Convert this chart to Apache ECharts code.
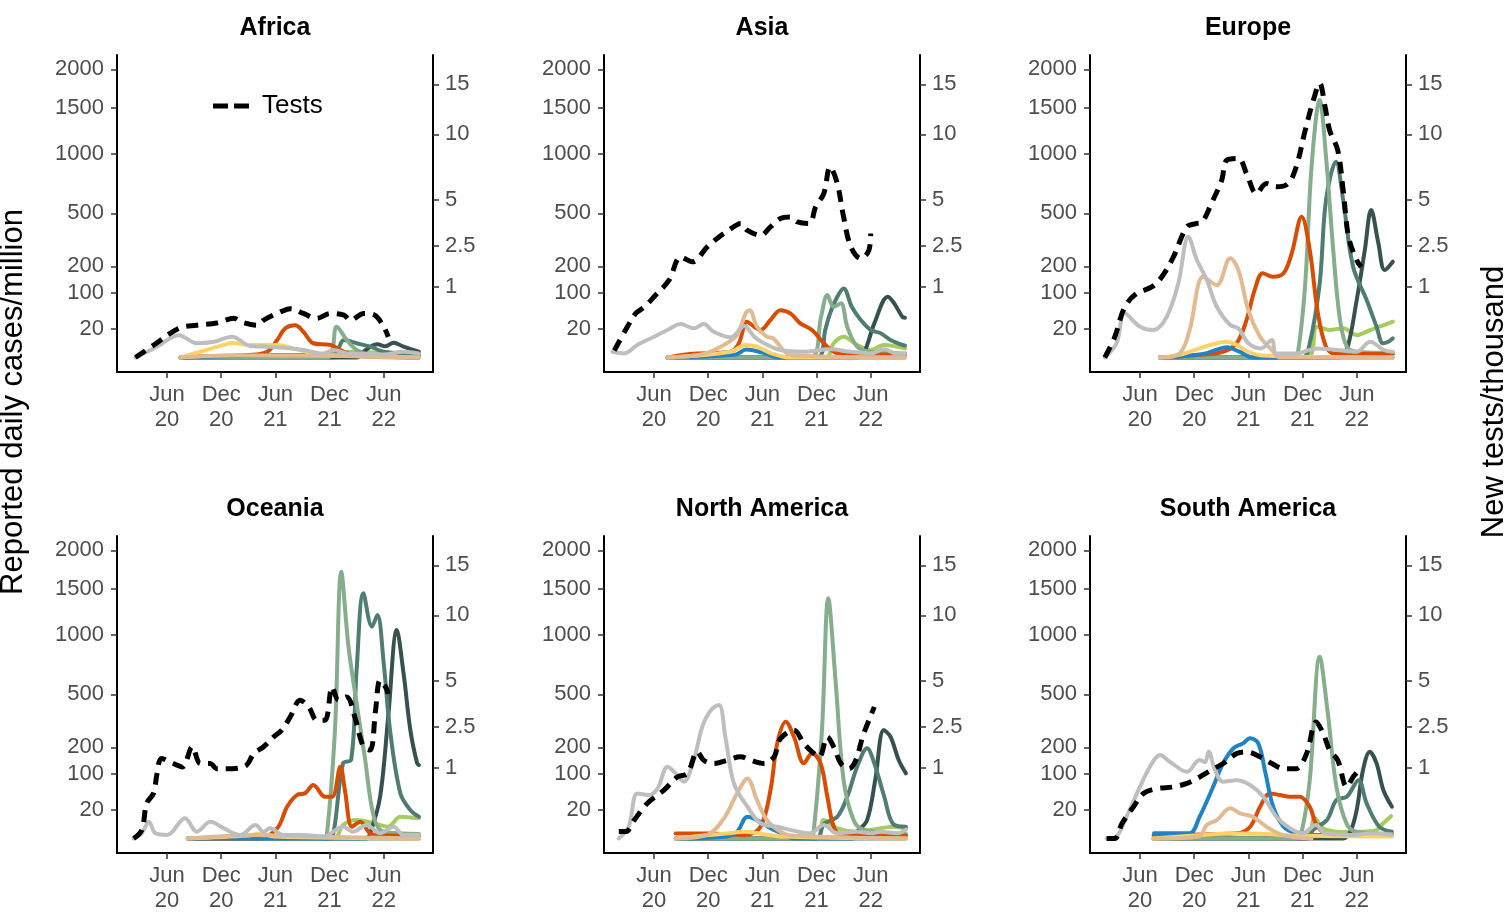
<!DOCTYPE html>
<html>
<head>
<meta charset="utf-8">
<title>Variant cases and tests by region</title>
<script src="https://cdn.jsdelivr.net/npm/echarts@6/dist/echarts.min.js"></script>
<style>
  html, body { margin: 0; background: #fff; }
  #chart { width: 1508px; height: 922px; }
</style>
</head>
<body>
<div id="chart"></div>
<script>
// x values are months since 1 Jan 2020 (5 = Jun 2020)
const regions = ['Africa', 'Asia', 'Europe', 'Oceania', 'North America', 'South America'];
const tickMonths = [5, 11, 17, 23, 29];
const tickLabels = ['Jun\n20', 'Dec\n20', 'Jun\n21', 'Dec\n21', 'Jun\n22'];
const caseTicks = [20, 100, 200, 500, 1000, 1500, 2000];
const testTicks = [1, 2.5, 5, 10, 15];

// drawing order: first is at the bottom
const variantNames = ['Other Omicron', 'BA.4/5', 'BA.2', 'BA.1', 'Delta', 'Gamma', 'Beta', 'Alpha', 'Pre-VOC'];
const variantColors = ['#a5cc5c', '#37514f', '#4f7d72', '#86ad8c', '#d94c04', '#1f83c6', '#ffd166', '#e2ba92', '#bebebe'];

// ---- Africa
const africaTests = [[1.5,0],[3.5,0.03],[6.3,0.17],[8.3,0.21],[10.5,0.24],[12.4,0.31],[13.3,0.25],[15,0.21],[15.7,0.28],[17.2,0.39],[18.7,0.48],[20.1,0.39],[21.6,0.31],[23.1,0.39],[24.6,0.36],[25.3,0.28],[26.8,0.39],[28,0.36],[29,0.19],[29.5,0.085]];
const africaPre = [[1.5,0],[3.9,2.8],[6.3,12],[8.3,4.9],[10.2,6],[12.2,10.4],[14.2,3.2],[16.4,2.8],[17.9,2.3],[20.1,1.35],[22.3,0.4],[23.4,1.35],[25.3,0.3],[27.5,0.3],[29,0.2],[31.2,0.8],[32.9,0.4]];
const africaAlpha = [[6.5,0],[12,0.1],[18,0.1],[32.9,0]];
const africaBeta = [[6.5,0],[8.7,0.8],[11.3,3.8],[12.2,5],[14.2,3.7],[17.2,3.7],[19,2],[21.6,0.3],[24,0.1],[32.9,0]];
const africaGamma = [[6.5,0],[14,0.1],[18,0.15],[32.9,0]];
const africaDelta = [[6.5,0],[10,0.05],[14.2,0.15],[16.1,0.8],[17.2,7.4],[18.1,20.5],[19.2,25],[20.1,16],[21.2,4.9],[23.1,3.8],[24.6,0.8],[26,0.05],[32.9,0]];
const africaBA1 = [[6.5,0],[22.7,0],[23.8,22.8],[24.9,7.4],[26,1.35],[27.5,0.2],[32.9,0]];
const africaBA2 = [[6.5,0],[23.5,0.4],[24.6,7.4],[26,4.9],[27.5,2.8],[29,0.8],[31,0.3],[32.9,0.2]];
const africaBA5 = [[6.5,0],[26,0],[27,1.35],[28.3,4.2],[29.2,3],[30.1,5.3],[31.2,2.8],[32.9,0.8]];
const africaOther = [[6.5,0],[23.5,0],[25,0.8],[29,0.6],[32.9,0.5]];

// ---- Asia
const asiaTests = [[0.6,0.01],[2.05,0.19],[2.97,0.39],[3.9,0.51],[5,0.74],[6.66,1.2],[7.96,2.03],[9.24,1.84],[10.9,2.46],[12.2,2.92],[13.3,3.26],[14.6,3.61],[15.3,3.26],[16.8,3.0],[17.9,3.43],[19,3.88],[20.1,3.97],[20.9,3.69],[22.2,3.61],[22.9,4.56],[23.8,5.4],[24.5,7.3],[25.3,6.08],[26,3.97],[26.8,2.46],[27.9,1.97],[28.8,2.31],[29,3.09]];
const asiaPre = [[0.4,0.8],[1.7,0.4],[3.15,3.8],[5,10.4],[6.5,18.2],[7.96,27],[9.4,20.5],[10.5,27],[11.6,16],[13.5,9.8],[15,23.9],[16.1,10.4],[17.2,4.9],[19,1.35],[21.6,0.8],[24.5,1.6],[26.8,0.8],[29,0.4],[30.5,1.6],[32,0.3],[32.8,0.4]];
const asiaAlpha = [[6.5,0],[10.5,0.3],[12.75,3.8],[14.2,12.2],[15.15,47],[15.6,54],[16.4,22.8],[17.5,10.4],[18.2,8.9],[19.5,0.8],[20.5,0.1],[32.8,0]];
const asiaBeta = [[6.5,0],[13.5,0.8],[15.15,3.8],[16.4,2.8],[18,0.4],[20,0],[32.8,0]];
const asiaGamma = [[6.5,0],[14,0.2],[15.2,1.5],[17,0.6],[19,0],[32.8,0]];
const asiaDelta = [[6.5,0],[9,0.3],[13.5,0.8],[14.4,4.9],[15.3,30.8],[16.1,22.8],[16.8,18.2],[17.9,33.9],[19,54],[20.1,47],[21.2,28],[22.5,18.2],[23.8,4.9],[24.9,0.8],[26,0.2],[32.8,0.2]];
const asiaBA1 = [[6.5,0],[22.3,0],[23.5,40],[24.2,94],[24.9,62],[25.7,70.7],[26.4,22.8],[27.5,2.8],[29,0.8],[32.8,0.4]];
const asiaBA2 = [[6.5,0],[23,0],[24,20],[24.5,47],[25.3,89],[26,115],[26.9,62],[27.9,33.9],[29,18.2],[30.1,14.1],[31.2,7.4],[32.5,3.8],[32.8,3.5]];
const asiaBA5 = [[6.5,0],[27.5,0],[28.3,0.8],[29.4,28],[30.9,89],[31.6,70.7],[32.5,40],[32.8,38]];
const asiaOther = [[6.5,0],[24,0],[24.9,4.9],[26,10.4],[27.5,3.8],[29,1.35],[30.5,3.8],[32.8,2]];

// ---- Europe
const europeTests = [[1.1,0],[2.2,0.085],[3.3,0.51],[4.6,0.82],[6.3,1.0],[7.4,1.3],[8.7,2.03],[10.2,3.43],[11.3,3.61],[11.9,3.69],[12.9,4.76],[14.05,6.32],[14.6,7.82],[15.9,7.96],[16.8,6.8],[17.9,5.4],[19,6.08],[20.1,5.85],[21.4,6.08],[22.3,7.3],[23.3,10.38],[24.2,13.3],[24.9,15.1],[25.5,12.6],[26,10.38],[26.9,8.63],[27.5,5.62],[28.1,2.92],[29,1.9],[29.5,1.65]];
const europePre = [[1.1,0],[2.4,4.9],[3.3,47],[5,22.8],[6.5,18.2],[7.96,40],[9.24,132],[10.35,351],[11.3,229],[12.4,145],[13.5,62],[15,25.4],[15.9,20.5],[17,4.9],[18.4,2],[19.6,7.4],[20.1,0.4],[22.3,0.4],[24.6,2],[26.8,1.35],[29,0.8],[30.5,6],[32,1.35],[33,0.8]];
const europeAlpha = [[7.2,0],[9.4,0.4],[10.5,18.2],[12,157],[13.5,126],[15,237],[15.9,184],[17,54],[18.3,10.4],[19.6,1.35],[20.5,0],[33,0]];
const europeBeta = [[7.2,0],[9.5,0.2],[11.6,2],[13.5,4.9],[14.6,6],[15.7,3.8],[17,0.8],[18.5,0.1],[33,0]];
const europeGamma = [[7.2,0],[12,0.3],[13.5,1.5],[14.6,2.5],[16,0.8],[17.5,0],[33,0]];
const europeDelta = [[7.2,0],[12,0.2],[14.2,0.8],[15.7,4.9],[16.8,33.9],[17.7,110],[18.6,171],[19.7,157],[20.9,171],[21.8,261],[22.9,477],[23.8,278],[24.7,47],[25.6,2.8],[26.5,0.4],[33,0.3]];
const europeBA1 = [[7.2,0],[22,0],[22.5,0.8],[23.3,132],[24,876],[24.9,1596],[25.6,971],[26.4,278],[27.1,40],[27.9,2.8],[29,0.8],[33,0.5]];
const europeBA2 = [[7.2,0],[23,0],[23.8,4.9],[24.9,132],[25.6,597],[26.7,923],[27.5,597],[28.6,198],[30.1,79.6],[31.2,22.8],[31.9,4.9],[32.5,6],[33,8.9]];
const europeBA5 = [[7.2,0],[27,0],[27.9,1.35],[29,79.6],[29.9,278],[30.6,524],[31.4,314],[32.1,184],[33,221]];
const europeOther = [[7.2,0],[23.5,0],[24.6,22.8],[26,18.2],[27.5,20.5],[29,12.2],[30.5,18.2],[31.5,22.8],[33,30.8]];

// ---- Oceania
const oceaniaTests = [[1.3,0],[2.2,0.014],[2.75,0.25],[3.5,0.41],[3.9,0.85],[4.4,1.29],[5.7,1.13],[6.7,1.03],[7.8,1.69],[8.7,1.13],[9.8,1.13],[10.5,0.98],[12.2,0.98],[13.8,1.08],[14.6,1.45],[15.7,1.69],[16.8,2.07],[17.7,2.36],[18.65,2.97],[19.75,3.84],[20.7,3.48],[21.6,2.81],[22.5,2.81],[23.3,4.62],[24,3.84],[24.9,4.03],[25.8,2.97],[26.75,1.69],[27.5,1.57],[28.1,3.31],[28.6,5.03],[29.2,4.62],[29.5,4.2]];
const oceaniaPre = [[1.3,0],[2.2,0.65],[3,6.8],[3.7,0.65],[5,0.3],[7,9.8],[8.3,1.1],[9.8,6.8],[11.3,2.5],[13.1,0.3],[14.8,4.4],[15.7,1.1],[16.4,2.5],[17.9,0.3],[20.1,0.3],[22.3,0.1],[24.5,3.35],[25.6,1.1],[27.1,4.4],[28.6,0.65],[30.1,3.35],[31.2,0.3],[32.9,0.3]];
const oceaniaAlpha = [[7.3,0],[15,0.3],[20,0.1],[32.9,0]];
const oceaniaBeta = [[7.3,0],[14,0.2],[15.3,0.6],[17,0.1],[32.9,0]];
const oceaniaGamma = [[7.3,0],[32.9,0]];
const oceaniaDelta = [[7.3,0],[15.2,0],[17.2,2.5],[18.3,24.3],[19.4,45.6],[20.3,49.2],[21.2,68.9],[22.5,42],[23.3,42],[24.2,124],[24.7,56.6],[25.5,3.35],[26.4,6.8],[27.5,0.65],[29,0.2],[32.9,0.2]];
const oceaniaBA1 = [[7.3,0],[22.3,0],[22.7,0.3],[23.6,283],[24.3,1714],[25.1,886],[26,440],[26.9,161],[27.9,11.4],[29,1.1],[32.9,0.5]];
const oceaniaBA2 = [[7.3,0],[23,0],[23.5,1.9],[24.5,136],[25.4,150],[26,683],[26.75,1447],[27.7,1080],[28.3,1203],[29,739],[29.7,283],[30.85,49],[31.95,19.6],[32.9,11.4]];
const oceaniaBA5 = [[7.3,0],[27,0],[27.5,0.65],[28.6,42],[29.5,357],[30.45,1046],[31.2,657],[31.95,283],[32.7,136],[32.9,130]];
const oceaniaOther = [[7.3,0],[23.5,0],[24.5,4.4],[26,8.2],[28.3,5],[29.5,3.35],[30.85,11.4],[32.9,9.8]];

// ---- North America
const northAmericaTests = [[1.1,0.01],[1.9,0.01],[2.8,0.067],[4.26,0.25],[6.1,0.47],[7.58,0.76],[8.7,0.85],[9.8,1.51],[10.5,1.23],[11.6,1.13],[13.1,1.23],[14.6,1.34],[15.7,1.23],[17.2,1.13],[18.3,1.34],[19,2.0],[20.5,2.36],[21.6,1.81],[22.5,1.51],[23.3,1.34],[24.2,2.07],[24.9,1.69],[25.7,1.13],[26.6,0.98],[27.35,1.23],[28.1,2.07],[28.8,2.81],[29.4,3.48]];
const northAmericaPre = [[1.1,0],[2.2,3.35],[3.15,49],[4.45,45.6],[5.4,60.7],[6.5,124],[7.4,102],[8.3,77.7],[9.4,148],[10.35,301],[11.3,397],[12.2,429],[12.9,249],[13.85,73.3],[15.35,24.3],[16.8,5.6],[18.65,3.35],[21,1.1],[22.3,0.65],[23.8,4.4],[25.3,0.65],[27.5,1.1],[29,0.65],[30.1,1.1],[32,0.65],[32.9,1.9]];
const northAmericaAlpha = [[7.4,0],[10.9,0.3],[12.75,9.8],[14.2,49],[15.35,87],[16.4,35.7],[17.5,8.2],[19,1.1],[20.2,0.2],[32.9,0]];
const northAmericaBeta = [[7.4,0],[11,0.3],[13,0.6],[15,1.1],[17,0.5],[19,0.1],[32.9,0]];
const northAmericaGamma = [[7.4,0],[13,0.1],[14.2,1.1],[15.35,11.4],[16.4,8.2],[17.9,2.5],[19.5,0.3],[20.5,0],[32.9,0]];
const northAmericaDelta = [[7.4,0.6],[11,0.6],[15.1,0.3],[16.8,3.35],[17.9,56.6],[18.65,218],[19.6,328],[20.5,249],[21.6,136],[22.5,175],[23.45,136],[24.2,42],[24.9,3.35],[25.7,0.3],[32.9,0.2]];
const northAmericaBA1 = [[7.4,0],[22.3,0],[22.7,1.9],[23.6,283],[24.3,1389],[25.1,605],[26,82],[27.1,8.2],[28.2,1.9],[32.9,0.5]];
const northAmericaBA2 = [[7.4,0],[23,0],[23.8,5],[25.3,11.4],[26.4,42],[27.5,124],[28.6,196],[29.4,136],[30.5,42],[31.5,5],[32.9,3.35]];
const northAmericaBA5 = [[7.4,0],[27,0],[27.5,1.1],[28.6,8.2],[29.5,82],[30.45,283],[31.2,249],[32.1,148],[32.9,102]];
const northAmericaOther = [[7.4,0],[23,0],[23.8,8.2],[25.3,2.5],[27.5,1.1],[31.5,3.35],[32.9,2.5]];

// ---- South America
const southAmericaTests = [[1.3,0],[2.2,0],[3,0.045],[4.26,0.2],[5.4,0.41],[6.85,0.5],[8.7,0.535],[10.2,0.61],[11.3,0.72],[12.55,0.89],[14.2,1.13],[15.7,1.45],[16.8,1.51],[18.3,1.34],[19.6,1.13],[20.9,0.98],[22.3,0.98],[23.45,1.45],[24.5,2.73],[25.3,2.21],[26,1.57],[26.9,1.23],[27.9,0.535],[28.6,0.76],[29.4,0.98]];
const southAmericaPre = [[1.3,0],[2.4,0.1],[3.5,11.4],[5,64.6],[6.1,124],[7.2,168],[8.3,142],[10.2,107],[11.6,148],[12.2,140],[12.6,181],[13.3,113],[14.2,77.7],[15.7,82],[17.2,69],[18.65,42],[20.1,11.4],[21.6,2.5],[23,0.65],[24.5,4.4],[25.5,0.65],[28.5,0.3],[30.8,0.65],[32.9,0.3]];
const southAmericaAlpha = [[6.5,0],[11.5,0.1],[12.4,4.4],[13.5,8.2],[15,22],[16.1,15.3],[17.5,11.4],[19,3.35],[20.8,0.3],[24,0]];
const southAmericaBeta = [[6.5,0],[12,0.3],[15,0.6],[19,0.5],[22,0.2],[32.9,0.1]];
const southAmericaGamma = [[6.55,0.65],[8.3,0.65],[10.5,0.65],[11.6,11.4],[13.1,64.6],[14.2,136],[15.35,196],[16.4,218],[17.2,242],[18.1,218],[18.9,102],[19.75,24.3],[20.9,3.35],[22.3,0.65],[24,0.3],[32.9,0.3]];
const southAmericaDelta = [[6.5,0.3],[15.7,0.65],[17.2,3.35],[18.3,24.3],[19.4,49],[20.5,45.6],[21.6,42],[22.7,42],[23.8,24.3],[24.5,5],[25.5,0.65],[27,0.3],[32.9,0.3]];
const southAmericaBA1 = [[6.5,0],[22.3,0],[22.9,1.1],[23.8,82],[24.9,796],[25.8,377],[26.75,64.6],[27.9,5],[29,1.1],[32.9,0.5]];
const southAmericaBA2 = [[6.5,0],[23.5,0],[24.2,1.9],[25.7,8.2],[26.75,35.7],[27.9,42],[29.2,82],[30.1,29.8],[31.5,3.35],[32.9,1.1]];
const southAmericaBA5 = [[6.5,0],[27.5,0],[28.3,1.1],[29,19.6],[29.7,113],[30.45,181],[31.2,136],[31.95,56.6],[32.9,24.3]];
const southAmericaOther = [[6.5,0],[23.5,0],[24.3,10],[25.5,2],[28,1],[31,1.5],[32,6],[32.8,12]];

// same order as variantNames
const regionVariants = [
  [africaOther, africaBA5, africaBA2, africaBA1, africaDelta, africaGamma, africaBeta, africaAlpha, africaPre],
  [asiaOther, asiaBA5, asiaBA2, asiaBA1, asiaDelta, asiaGamma, asiaBeta, asiaAlpha, asiaPre],
  [europeOther, europeBA5, europeBA2, europeBA1, europeDelta, europeGamma, europeBeta, europeAlpha, europePre],
  [oceaniaOther, oceaniaBA5, oceaniaBA2, oceaniaBA1, oceaniaDelta, oceaniaGamma, oceaniaBeta, oceaniaAlpha, oceaniaPre],
  [northAmericaOther, northAmericaBA5, northAmericaBA2, northAmericaBA1, northAmericaDelta, northAmericaGamma, northAmericaBeta, northAmericaAlpha, northAmericaPre],
  [southAmericaOther, southAmericaBA5, southAmericaBA2, southAmericaBA1, southAmericaDelta, southAmericaGamma, southAmericaBeta, southAmericaAlpha, southAmericaPre]
];
const regionTests = [africaTests, asiaTests, europeTests, oceaniaTests, northAmericaTests, southAmericaTests];

// both y scales are square-root scales
const sqrtPts = arr => arr.map(([t, v]) => [t, Math.sqrt(v)]);
const tickText = '#4d4d4d';
const font = 'Liberation Sans, Arial, sans-serif';
const lefts = [117, 604, 1090];
const tops = [55, 536];

const grids = [], xAxes = [], yAxes = [], titles = [], series = [];

regions.forEach((name, i) => {
  const col = i % 3, row = Math.floor(i / 3);
  grids.push({ left: lefts[col], top: tops[row], width: 316, height: 317 });
  titles.push({
    text: name,
    left: lefts[col] + 158,
    top: tops[row] - 39,
    padding: 0,
    textAlign: 'center',
    textStyle: { fontSize: 25, fontWeight: 'bold', color: '#000', fontFamily: font }
  });
  xAxes.push({
    type: 'value', gridIndex: i, min: -0.54, max: 34.46,
    axisLine: { onZero: false, lineStyle: { color: '#000', width: 2 } },
    axisTick: { customValues: tickMonths, length: 6, lineStyle: { color: '#333', width: 1.5 } },
    axisLabel: {
      customValues: tickMonths,
      formatter: v => tickLabels[tickMonths.indexOf(v)],
      color: tickText, fontSize: 22, lineHeight: 25, margin: 10,
      fontFamily: font
    },
    splitLine: { show: false }
  });
  yAxes.push({
    type: 'value', gridIndex: i, position: 'left', min: -2.25, max: 46.94,
    axisLine: { show: true, onZero: false, lineStyle: { color: '#000', width: 2 } },
    axisTick: { show: true, customValues: caseTicks.map(Math.sqrt), length: 6, lineStyle: { color: '#333', width: 1.5 } },
    axisLabel: {
      customValues: caseTicks.map(Math.sqrt),
      formatter: v => String(Math.round(v * v)),
      color: tickText, fontSize: 22, margin: 13, padding: [6, 0, 0, 0],
      fontFamily: font
    },
    splitLine: { show: false }
  });
  yAxes.push({
    type: 'value', gridIndex: i, position: 'right', min: -0.2055, max: 4.288,
    axisLine: { show: true, onZero: false, lineStyle: { color: '#000', width: 2 } },
    axisTick: { show: true, customValues: testTicks.map(Math.sqrt), length: 6, lineStyle: { color: '#333', width: 1.5 } },
    axisLabel: {
      customValues: testTicks.map(Math.sqrt),
      formatter: v => String(+(v * v).toFixed(1)),
      color: tickText, fontSize: 22, margin: 12, padding: [6, 0, 0, 0],
      fontFamily: font
    },
    splitLine: { show: false }
  });

  regionVariants[i].forEach((arr, j) => {
    series.push({
      type: 'line', name: variantNames[j],
      xAxisIndex: i, yAxisIndex: 2 * i,
      data: sqrtPts(arr),
      smooth: 0.35, symbol: 'none',
      lineStyle: { color: variantColors[j], width: 4, cap: 'round', join: 'round' },
      itemStyle: { color: variantColors[j] },
      z: 2 + j
    });
  });
  series.push({
    type: 'line', name: 'Tests',
    xAxisIndex: i, yAxisIndex: 2 * i + 1,
    data: sqrtPts(regionTests[i]),
    smooth: 0.35, symbol: 'none',
    lineStyle: { color: '#000', width: 5, type: [12, 8] },
    itemStyle: { color: '#000' },
    z: 20
  });
});

const chart = echarts.init(document.getElementById('chart'));
chart.setOption({
  animation: false,
  backgroundColor: '#fff',
  title: titles,
  grid: grids,
  xAxis: xAxes,
  yAxis: yAxes,
  legend: {
    data: ['Tests'],
    left: 208, top: 88,
    icon: 'path://M0,0H15V5H0Z M21,0H36V5H21Z',
    itemWidth: 36, itemHeight: 5, itemGap: 8,
    textStyle: { fontSize: 26, color: '#000', fontFamily: font, padding: [0, 0, 0, 8] }
  },
  graphic: [
    {
      type: 'text', x: 13, y: 402, rotation: Math.PI / 2,
      style: { text: 'Reported daily cases/million', fontSize: 31, fill: '#000',
        fontFamily: font, align: 'center', verticalAlign: 'middle' }
    },
    {
      type: 'text', x: 1494, y: 402, rotation: Math.PI / 2,
      style: { text: 'New tests/thousand', fontSize: 31, fill: '#000',
        fontFamily: font, align: 'center', verticalAlign: 'middle' }
    }
  ],
  series: series
});
</script>
</body>
</html>
